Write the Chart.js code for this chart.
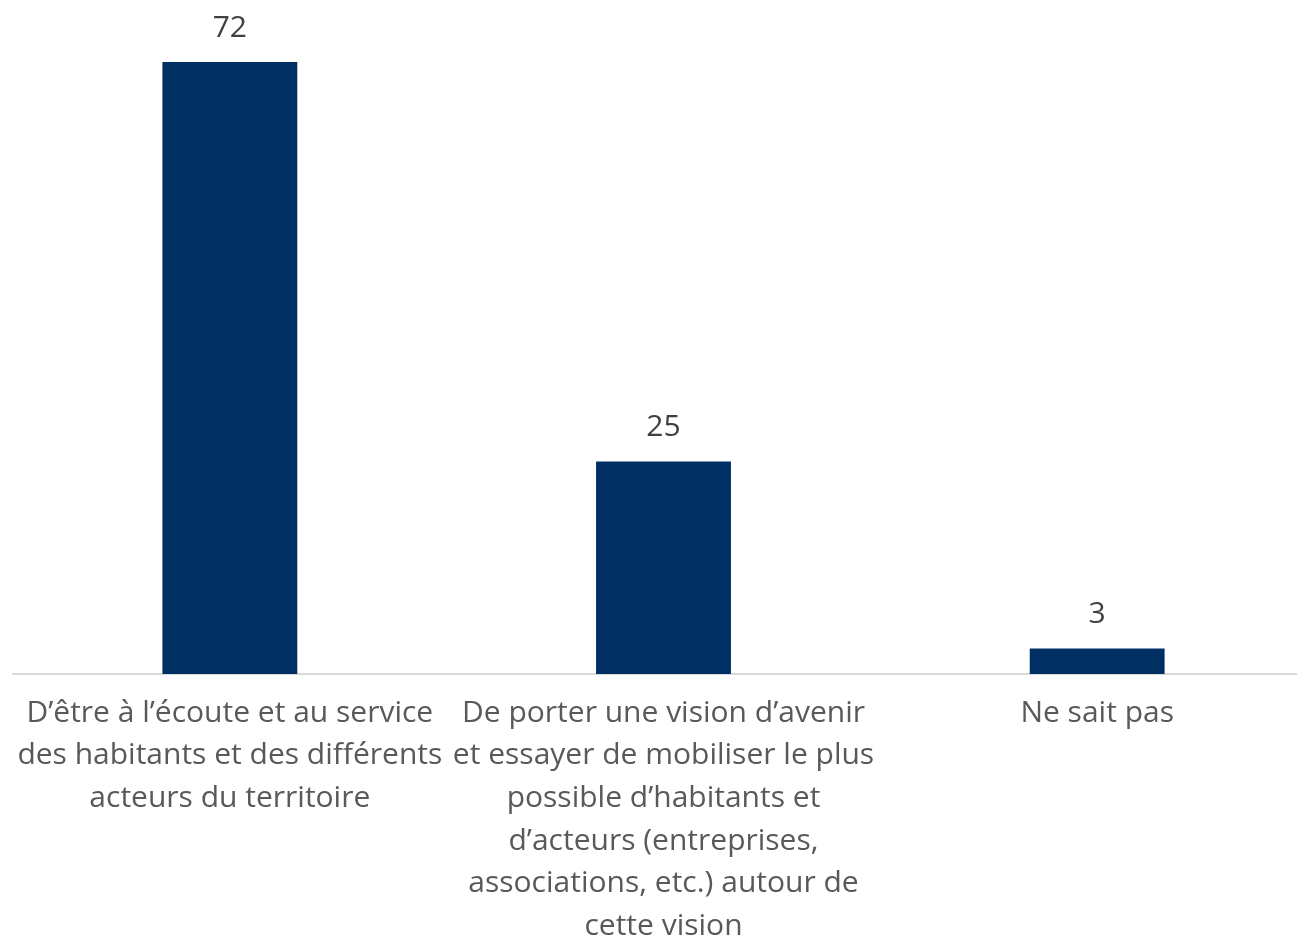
<!DOCTYPE html>
<html>
<head>
<meta charset="utf-8">
<script src="https://cdn.jsdelivr.net/npm/chart.js@4/dist/chart.umd.min.js"></script>
<style>
  html, body { margin: 0; padding: 0; background: #ffffff; overflow: hidden; }
  #wrap { position: relative; width: 1315px; height: 939px; }
</style>
</head>
<body>
<div id="wrap"><canvas id="c" width="1315" height="939"></canvas></div>
<script>
const categories = [
  ["D’être à l’écoute et au service", "des habitants et des différents", "acteurs du territoire"],
  ["De porter une vision d’avenir", "et essayer de mobiliser le plus", "possible d’habitants et", "d’acteurs (entreprises,", "associations, etc.) autour de", "cette vision"],
  ["Ne sait pas"]
];
const values = [72, 25, 3];

const valueLabels = {
  id: 'valueLabels',
  afterDatasetsDraw(chart) {
    const ctx = chart.ctx;
    const meta = chart.getDatasetMeta(0);
    ctx.save();
    ctx.font = '30px "Open Sans"';
    ctx.fillStyle = '#404040';
    ctx.textAlign = 'center';
    ctx.textBaseline = 'middle';
    meta.data.forEach((bar, i) => {
      ctx.fillText(String(values[i]), bar.x, bar.y - 34);
    });
    ctx.restore();
  }
};

new Chart(document.getElementById('c'), {
  type: 'bar',
  data: {
    labels: categories,
    datasets: [{
      data: values,
      backgroundColor: '#003063',
      borderWidth: 0,
      barPercentage: 0.311,
      categoryPercentage: 1.0
    }]
  },
  options: {
    responsive: false,
    animation: false,
    devicePixelRatio: 1,
    layout: { padding: { top: 62, left: 13, right: 1, bottom: 0 } },
    plugins: { legend: { display: false }, tooltip: { enabled: false } },
    scales: {
      x: {
        offset: true,
        grid: { display: false, drawTicks: false },
        border: { display: true, color: '#d9d9d9', width: 2 },
        ticks: {
          autoSkip: false,
          maxRotation: 0,
          minRotation: 0,
          padding: 18,
          color: '#595959',
          font: { family: 'Open Sans', size: 30, lineHeight: 1.42 }
        },
        afterFit(scale) {
          scale.height = 265;
          scale.paddingLeft = 0;
          scale.paddingRight = 0;
        }
      },
      y: {
        display: false,
        min: 0,
        max: 72
      }
    }
  },
  plugins: [valueLabels]
});
</script>
</body>
</html>
